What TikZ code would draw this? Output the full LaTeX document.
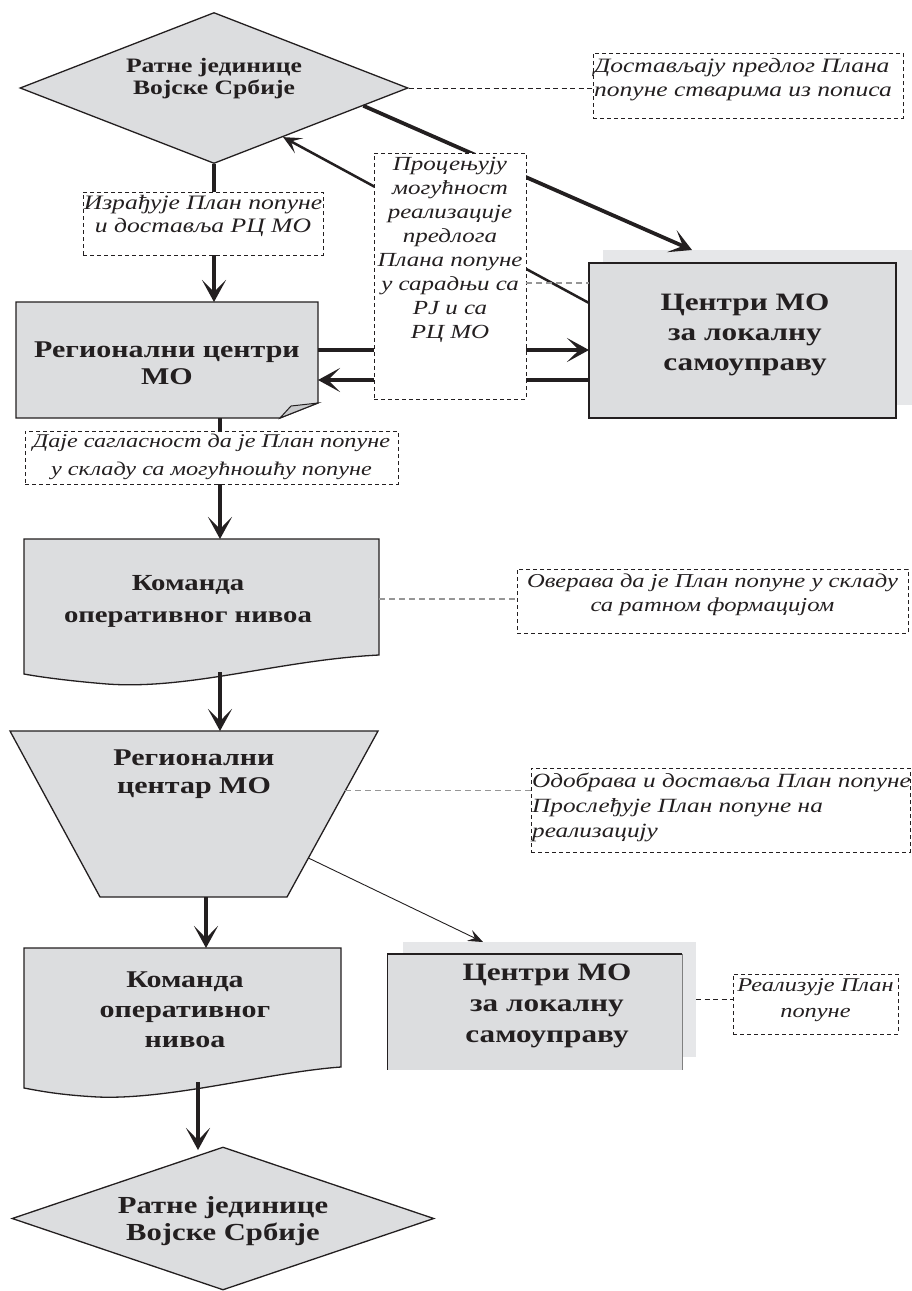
\documentclass[tikz,border=0pt]{standalone}
\usepackage{fontspec}
\usepackage{graphicx}
\setmainfont[Language=Serbian]{Liberation Serif}
\newfontfamily\wideserif[FakeStretch=1.25,Language=Serbian]{Liberation Serif}
\usetikzlibrary{arrows.meta,shapes.geometric,calc}
\definecolor{boxgray}{RGB}{220,221,223}
\definecolor{shadowgray}{RGB}{230,231,233}
\definecolor{foldgray}{RGB}{200,201,203}
\definecolor{ink}{RGB}{35,31,32}
\definecolor{dashgray}{RGB}{150,150,150}
\tikzset{
  shp/.style={fill=boxgray, draw=ink, line width=1.3pt},
  anch/.style={rectangle, inner sep=0pt, outer sep=0pt},
  lbl/.style={rectangle, draw=ink, fill=white, line width=0.9pt, dash pattern=on 4pt off 3pt, inner sep=0pt, outer sep=0pt},
  link/.style={draw=ink, line width=1pt, dash pattern=on 5pt off 3.5pt},
  glink/.style={draw=dashgray, line width=1.3pt, dash pattern=on 6pt off 4pt},
  big/.style={draw=ink, line width=3.8pt, -{Stealth[length=22pt,width=24pt,inset=12pt]}},
  midarrow/.style={draw=ink, line width=2.5pt, -{Stealth[length=18pt,width=17pt,inset=9pt]}},
  thinarrow/.style={draw=ink, line width=0.9pt, -{Stealth[length=15pt,width=12pt,inset=6pt]}},
  ttl/.style={align=center, text=ink, inner sep=0pt, font=\wideserif\bfseries},
  itx/.style={align=center, text=ink, inner sep=0pt, font=\wideserif\itshape},
}
\begin{document}
\begin{tikzpicture}[x=1pt,y=-1pt]
\useasboundingbox (0,0) rectangle (912,1291);
\fill[white] (0,0) rectangle (912,1291);

% ---------- anchor nodes ----------
\node[diamond, shp, minimum width=388pt, minimum height=151pt, inner sep=0pt] (d1) at (214,88) {};
\node[anch, minimum width=302pt, minimum height=116pt] (rc) at (167,360) {};
\node[anch, minimum width=309pt, minimum height=155pt] (c1s) at (757.5,327.5) {};
\node[anch, minimum width=307pt, minimum height=155pt] (c1) at (742.5,340.5) {};
\node[anch, minimum width=355pt, minimum height=135pt] (k1) at (201.5,606.5) {};
\node[anch, minimum width=368pt, minimum height=166pt] (tz) at (194,814) {};
\node[anch, minimum width=317pt, minimum height=140pt] (k2) at (182.5,1018) {};
\node[anch, minimum width=293pt, minimum height=115pt] (c2s) at (549.5,999.5) {};
\node[anch, minimum width=295pt, minimum height=116pt] (c2) at (534.5,1012) {};

% ---------- shapes ----------
\fill[shadowgray] (c1s.north west) rectangle (c1s.south east);
\filldraw[shp, line width=2pt] (c1.north west) rectangle (c1.south east);
\filldraw[shp] (16,302) -- (318,302) -- (318,403) -- (280,418) -- (16,418) -- cycle;
\filldraw[fill=foldgray, draw=ink, line width=1pt] (280,418) -- (291,406) -- (318,403) -- cycle;
\filldraw[shp] (24,539) -- (379,539) -- (379,655)
   .. controls (280,660) and (190,690) .. (107,684)
   .. controls (70,681) and (40,677) .. (24,674) -- cycle;
\coordinate (tzNW) at (10,731);
\coordinate (tzNE) at (378,731);
\coordinate (tzSE) at (287,897);
\coordinate (tzSW) at (100,897);
\filldraw[shp] (tzNW) -- (tzNE) -- (tzSE) -- (tzSW) -- cycle;
\filldraw[shp] (24,948) -- (341,948) -- (341,1067)
   .. controls (270,1072) and (170,1100) .. (98,1097)
   .. controls (60,1095) and (40,1091) .. (24,1088) -- cycle;
\fill[shadowgray] (c2s.north west) rectangle (c2s.south east);
\fill[boxgray] (c2.north west) rectangle (c2.south east);
\draw[ink, line width=2.2pt] (c2.north west) -- (c2.north east);
\draw[ink, line width=0.8pt] (c2.north west) -- (c2.south west);
\draw[gray, line width=0.6pt] (c2.north east) -- (c2.south east);
\node[diamond, shp, minimum width=422pt, minimum height=143pt, inner sep=0pt] (d2) at (223,1218.5) {};

% ---------- level coordinates ----------
\coordinate (yA) at (0,350);
\coordinate (yB) at (0,380);
\coordinate (yC) at (0,303);
\coordinate (yD) at (0,283);
\coordinate (yE) at (0,599);
\coordinate (xA) at (220,0);
\coordinate (xB) at (206,0);
\coordinate (xC) at (198,0);

% ---------- connectors ----------
\draw[big] (d1.south) -- (d1.south |- rc.north);
\draw[big] (rc.south -| xA) -- (xA |- k1.north);
\draw[big] (xA |- 0,672) -- (xA |- tz.north);
\draw[big] (tz.south -| xB) -- (xB |- k2.north);
\draw[big] (xC |- 0,1082) -- (xC |- 0,1150);
\draw[big] (rc.east |- yA) -- (c1.west |- yA);
\draw[big] (c1.west |- yB) -- (rc.east |- yB);
\draw[big] ($(d1.east)!0.233!(d1.south)$) -- ($(c1s.north west)!0.288!(c1s.north east)$);
\draw[midarrow] (c1.west |- yC) -- ($(d1.east)!0.645!(d1.south)$);
\draw[thinarrow] ($(tzNE)!0.765!(tzSE)$) -- ($(c2s.north west)!0.273!(c2s.north east)$);

% ---------- label boxes ----------
\node[lbl, minimum width=310pt, minimum height=65pt] (l0) at (748,85.5) {};
\node[lbl, minimum width=240pt, minimum height=63pt] (l1) at (203,223.5) {};
\node[lbl, minimum width=152pt, minimum height=246pt] (l2) at (450,276) {};
\node[lbl, minimum width=373pt, minimum height=53pt] (l3) at (211.5,457.5) {};
\node[lbl, minimum width=391pt, minimum height=64pt] (l4) at (712.5,601) {};
\node[lbl, minimum width=379pt, minimum height=84pt] (l5) at (720.5,810) {};
\node[lbl, minimum width=165pt, minimum height=60pt] (l6) at (815.5,1004) {};

\draw[link] (d1.east) -- (d1.east -| l0.west);
\draw[glink] (l2.east |- yD) -- (c1.west |- yD);
\draw[glink] (k1.east |- yE) -- (l4.west |- yE);
\draw[glink] ($(tzNE)!0.36!(tzSE)$) coordinate (tzR) -- (tzR -| l5.west);
\draw[link] (c2s.east) -- (c2s.east -| l6.west);

% ---------- titles ----------
\node[ttl, font=\wideserif\bfseries\fontsize{20.5}{22}\selectfont] (d1t) at (214,79) {Ратне јединице\\Војске Србије};
\node[ttl, font=\wideserif\bfseries\fontsize{24}{27}\selectfont] (rct) at (167,363) {Регионални центри\\МО};
\node[ttl, font=\wideserif\bfseries\fontsize{25}{30}\selectfont] (c1t) at (745,335) {Центри МО\\за локалну\\самоуправу};
\node[ttl, font=\wideserif\bfseries\fontsize{23}{32}\selectfont] (k1t) at (188,601) {Команда\\оперативног нивоа};
\node[ttl, font=\wideserif\bfseries\fontsize{24}{28}\selectfont] (tzt) at (194,774) {Регионални\\центар МО};
\node[ttl, font=\wideserif\bfseries\fontsize{24}{30}\selectfont] (k2t) at (185,1010) {Команда\\оперативног\\нивоа};
\node[ttl, font=\wideserif\bfseries\fontsize{25}{31}\selectfont] (c2t) at (547,1006) {Центри МО\\за локалну\\самоуправу};
\node[ttl, font=\wideserif\bfseries\fontsize{24.5}{27}\selectfont] (d2t) at (223,1221) {Ратне јединице\\Војске Србије};

% ---------- label texts ----------
\node[itx, align=left, anchor=west, font=\wideserif\itshape\fontsize{20.4}{24}\selectfont] (l0t) at (594,80) {Достављају предлог Плана\\попуне стварима из пописа};
\node[itx, font=\wideserif\itshape\fontsize{20.5}{23}\selectfont] (l1t) at (203,216) {Израђује План попуне\\и доставља РЦ МО};
\node[itx, font=\wideserif\itshape\fontsize{20}{24}\selectfont] (l2t) at (450,250) {Процењују\\могућност\\реализације\\предлога\\Плана попуне\\у сарадњи са\\РЈ и са\\РЦ МО};
\node[itx, font=\wideserif\itshape\fontsize{19.4}{28}\selectfont] (l3t) at (211.5,457) {Даје сагласност да је План попуне\\у складу са могућношћу попуне};
\node[itx, font=\wideserif\itshape\fontsize{19.7}{24}\selectfont] (l4t) at (712.5,595) {Оверава да је План попуне у складу\\са ратном формацијом};
\node[itx, align=left, anchor=west, font=\wideserif\itshape\fontsize{20.2}{25}\selectfont] (l5t) at (532,807) {Одобрава и доставља План попуне\\Прослеђује План попуне на\\реализацију};
\node[itx, font=\wideserif\itshape\fontsize{19.5}{26}\selectfont] (l6t) at (815.5,1000) {Реализује План\\попуне};
\end{tikzpicture}
\end{document}
